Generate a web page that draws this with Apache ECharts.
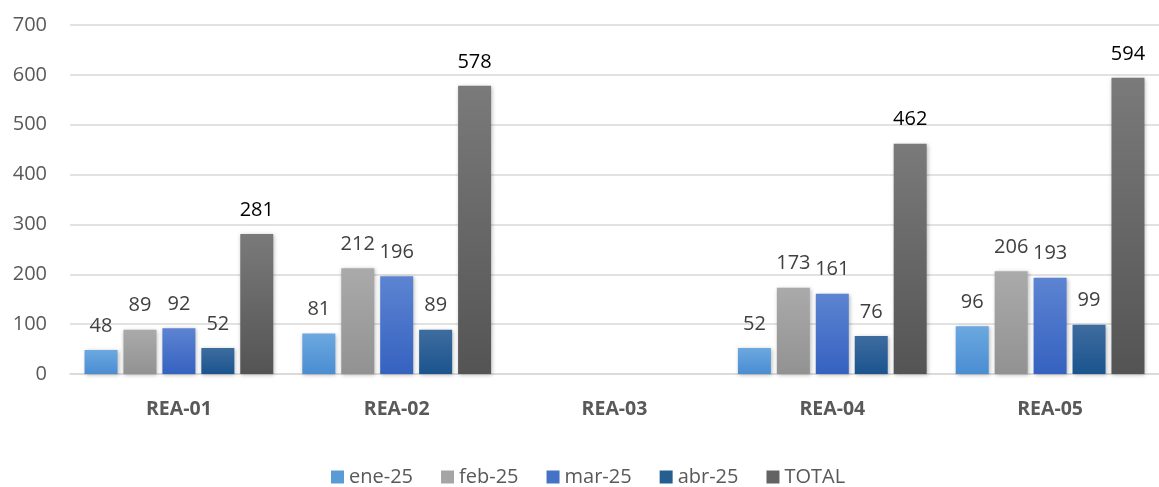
<!DOCTYPE html>
<html>
<head>
<meta charset="utf-8">
<script src="https://cdn.jsdelivr.net/npm/echarts@6/dist/echarts.min.js"></script>
<style>
  html, body { margin: 0; padding: 0; background: #fff; }
  #chart { width: 1159px; height: 487px; }
</style>
</head>
<body>
<div id="chart"></div>
<script>
// Areas on the category axis
const categories = ['REA-01', 'REA-02', 'REA-03', 'REA-04', 'REA-05'];
// Monthly counts per area (REA-03 has no records)
const ene25 = [48, 81, null, 52, 96];
const feb25 = [89, 212, null, 173, 206];
const mar25 = [92, 196, null, 161, 193];
const abr25 = [52, 89, null, 76, 99];
const total = [281, 578, null, 462, 594];
// Value axis ticks
const yTicks = [0, 100, 200, 300, 400, 500, 600, 700];

const FONT = '"Open Sans", "Noto Sans", sans-serif';

function grad(top, bottom) {
  return new echarts.graphic.LinearGradient(0, 0, 0, 1, [
    { offset: 0, color: top },
    { offset: 1, color: bottom }
  ]);
}

function barSeries(name, data, top, bottom, solid, labelColor) {
  return {
    name: name,
    type: 'bar',
    data: data,
    barWidth: 33,
    barGap: '18%',
    itemStyle: {
      color: grad(top, bottom),
      shadowColor: 'rgba(0,0,0,0.28)',
      shadowBlur: 4,
      shadowOffsetX: 1,
      shadowOffsetY: 1
    },
    label: {
      show: true,
      position: 'top',
      distance: 14,
      color: labelColor,
      fontFamily: FONT,
      fontSize: 20
    },
    emphasis: { disabled: true },
    legendColor: solid
  };
}

const seriesDefs = [
  barSeries('ene-25', ene25, '#6ca8e0', '#4a8dd2', '#5b9bd5', '#404040'),
  barSeries('feb-25', feb25, '#aaaaaa', '#929292', '#a5a5a5', '#404040'),
  barSeries('mar-25', mar25, '#5d84d2', '#3562c0', '#4472c4', '#404040'),
  barSeries('abr-25', abr25, '#3e6c9f', '#1b548e', '#255e91', '#404040'),
  barSeries('TOTAL', total, '#7a7a7a', '#545454', '#636363', '#000000')
];

const chart = echarts.init(document.getElementById('chart'), null, { renderer: 'canvas' });

chart.setOption({
  animation: false,
  backgroundColor: '#ffffff',
  grid: { left: 70, right: 0, top: 25, bottom: 113, containLabel: false },
  legend: {
    top: 462,
    left: 326,
    itemWidth: 13,
    itemHeight: 13,
    itemGap: 28,
    icon: 'rect',
    textStyle: { color: '#595959', fontFamily: FONT, fontSize: 20, padding: [0, 0, 0, 0] },
    data: seriesDefs.map(s => ({ name: s.name, itemStyle: { color: s.legendColor, shadowBlur: 0, shadowColor: 'transparent' } }))
  },
  xAxis: {
    type: 'category',
    data: categories,
    axisTick: { show: false },
    axisLine: { show: true, lineStyle: { color: '#d9d9d9', width: 1.5 } },
    axisLabel: {
      color: '#595959',
      fontFamily: FONT,
      fontSize: 19.5,
      fontWeight: 'bold',
      margin: 25
    }
  },
  yAxis: {
    type: 'value',
    min: yTicks[0],
    max: yTicks[yTicks.length - 1],
    interval: yTicks[1] - yTicks[0],
    axisLine: { show: false },
    axisTick: { show: false },
    splitLine: { lineStyle: { color: '#d9d9d9', width: 1.5 } },
    axisLabel: {
      color: '#595959',
      fontFamily: FONT,
      fontSize: 20,
      margin: 23
    }
  },
  series: seriesDefs.map(s => {
    const o = Object.assign({}, s);
    delete o.legendColor;
    return o;
  })
});
</script>
</body>
</html>
